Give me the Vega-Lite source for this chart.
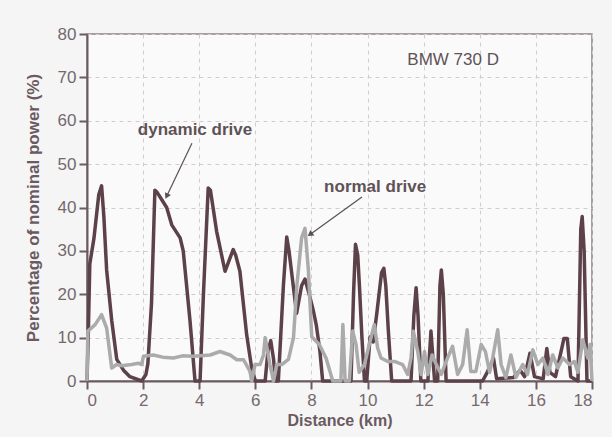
{
  "$schema": "https://vega.github.io/schema/vega-lite/v6.json",
  "autosize": "none",
  "width": 505,
  "height": 347,
  "padding": {"left": 87, "top": 34, "right": 20, "bottom": 56},
  "background": "#f6f5f5",
  "config": {
    "font": "Liberation Sans",
    "view": {"stroke": "#8a8085", "strokeWidth": 1.5, "fill": "#fafafa"},
    "axis": {
      "domainColor": "#6a5a62",
      "domainWidth": 2,
      "tickColor": "#6a5a62",
      "tickWidth": 2,
      "tickSize": 8,
      "labelFontSize": 17,
      "labelColor": "#74696e",
      "labelPadding": 3,
      "gridColor": "#d0cdce",
      "gridDash": [4, 4],
      "gridWidth": 1,
      "titleFontSize": 16,
      "titleFontWeight": "bold",
      "titleColor": "#6a5a62"
    }
  },
  "datasets": {
    "series": [
      {"s": "dynamic", "x": 0, "y": 0}, {"s": "dynamic", "x": 0.05, "y": 12}, {"s": "dynamic", "x": 0.1, "y": 27},
      {"s": "dynamic", "x": 0.25, "y": 33}, {"s": "dynamic", "x": 0.42, "y": 43}, {"s": "dynamic", "x": 0.52, "y": 45},
      {"s": "dynamic", "x": 0.6, "y": 38}, {"s": "dynamic", "x": 0.7, "y": 25.6}, {"s": "dynamic", "x": 0.88, "y": 14},
      {"s": "dynamic", "x": 1.06, "y": 5}, {"s": "dynamic", "x": 1.3, "y": 2.5}, {"s": "dynamic", "x": 1.53, "y": 1},
      {"s": "dynamic", "x": 1.95, "y": 0}, {"s": "dynamic", "x": 2.1, "y": 1.5}, {"s": "dynamic", "x": 2.17, "y": 4},
      {"s": "dynamic", "x": 2.3, "y": 18}, {"s": "dynamic", "x": 2.42, "y": 44}, {"s": "dynamic", "x": 2.5, "y": 43.5},
      {"s": "dynamic", "x": 2.84, "y": 40}, {"s": "dynamic", "x": 3.02, "y": 36}, {"s": "dynamic", "x": 3.32, "y": 33},
      {"s": "dynamic", "x": 3.43, "y": 30}, {"s": "dynamic", "x": 3.67, "y": 14}, {"s": "dynamic", "x": 3.85, "y": 0},
      {"s": "dynamic", "x": 4.03, "y": 0}, {"s": "dynamic", "x": 4.15, "y": 20}, {"s": "dynamic", "x": 4.32, "y": 44.5},
      {"s": "dynamic", "x": 4.4, "y": 44}, {"s": "dynamic", "x": 4.62, "y": 34.5}, {"s": "dynamic", "x": 4.92, "y": 25.3},
      {"s": "dynamic", "x": 5.21, "y": 30.3}, {"s": "dynamic", "x": 5.3, "y": 29}, {"s": "dynamic", "x": 5.45, "y": 25.3},
      {"s": "dynamic", "x": 5.69, "y": 10.7}, {"s": "dynamic", "x": 5.87, "y": 3}, {"s": "dynamic", "x": 6.0, "y": 0},
      {"s": "dynamic", "x": 6.35, "y": 0}, {"s": "dynamic", "x": 6.45, "y": 7}, {"s": "dynamic", "x": 6.55, "y": 9.3},
      {"s": "dynamic", "x": 6.65, "y": 5}, {"s": "dynamic", "x": 6.72, "y": 0}, {"s": "dynamic", "x": 6.82, "y": 0},
      {"s": "dynamic", "x": 7.0, "y": 22}, {"s": "dynamic", "x": 7.12, "y": 33.2}, {"s": "dynamic", "x": 7.2, "y": 30},
      {"s": "dynamic", "x": 7.47, "y": 15.6}, {"s": "dynamic", "x": 7.65, "y": 22}, {"s": "dynamic", "x": 7.77, "y": 23.5},
      {"s": "dynamic", "x": 7.92, "y": 20}, {"s": "dynamic", "x": 8.06, "y": 16.4}, {"s": "dynamic", "x": 8.17, "y": 13},
      {"s": "dynamic", "x": 8.3, "y": 7}, {"s": "dynamic", "x": 8.4, "y": 0}, {"s": "dynamic", "x": 9.41, "y": 0},
      {"s": "dynamic", "x": 9.5, "y": 20}, {"s": "dynamic", "x": 9.57, "y": 31.5}, {"s": "dynamic", "x": 9.65, "y": 29},
      {"s": "dynamic", "x": 9.71, "y": 22}, {"s": "dynamic", "x": 9.8, "y": 10}, {"s": "dynamic", "x": 9.89, "y": 0},
      {"s": "dynamic", "x": 9.97, "y": 0}, {"s": "dynamic", "x": 10.09, "y": 10.2}, {"s": "dynamic", "x": 10.2, "y": 9},
      {"s": "dynamic", "x": 10.33, "y": 15.6}, {"s": "dynamic", "x": 10.5, "y": 25}, {"s": "dynamic", "x": 10.58, "y": 26},
      {"s": "dynamic", "x": 10.65, "y": 22}, {"s": "dynamic", "x": 10.74, "y": 11.7}, {"s": "dynamic", "x": 10.86, "y": 0},
      {"s": "dynamic", "x": 11.55, "y": 0}, {"s": "dynamic", "x": 11.65, "y": 15}, {"s": "dynamic", "x": 11.73, "y": 21.5},
      {"s": "dynamic", "x": 11.8, "y": 15}, {"s": "dynamic", "x": 11.9, "y": 0}, {"s": "dynamic", "x": 12.15, "y": 0},
      {"s": "dynamic", "x": 12.26, "y": 11.5}, {"s": "dynamic", "x": 12.39, "y": 0}, {"s": "dynamic", "x": 12.5, "y": 0},
      {"s": "dynamic", "x": 12.58, "y": 22}, {"s": "dynamic", "x": 12.63, "y": 25.6}, {"s": "dynamic", "x": 12.7, "y": 20},
      {"s": "dynamic", "x": 12.8, "y": 0}, {"s": "dynamic", "x": 14.1, "y": 0}, {"s": "dynamic", "x": 14.25, "y": 1.8},
      {"s": "dynamic", "x": 14.49, "y": 5.2}, {"s": "dynamic", "x": 14.6, "y": 0.5}, {"s": "dynamic", "x": 15.2, "y": 0.8},
      {"s": "dynamic", "x": 15.44, "y": 2.5}, {"s": "dynamic", "x": 15.6, "y": 1}, {"s": "dynamic", "x": 15.79, "y": 6.4},
      {"s": "dynamic", "x": 15.95, "y": 1}, {"s": "dynamic", "x": 16.26, "y": 0.5}, {"s": "dynamic", "x": 16.39, "y": 7.5},
      {"s": "dynamic", "x": 16.5, "y": 2}, {"s": "dynamic", "x": 16.7, "y": 1}, {"s": "dynamic", "x": 17.0, "y": 9.8},
      {"s": "dynamic", "x": 17.12, "y": 9.8}, {"s": "dynamic", "x": 17.24, "y": 1}, {"s": "dynamic", "x": 17.5, "y": 0},
      {"s": "dynamic", "x": 17.6, "y": 35}, {"s": "dynamic", "x": 17.65, "y": 37.9}, {"s": "dynamic", "x": 17.72, "y": 30},
      {"s": "dynamic", "x": 17.82, "y": 0}, {"s": "dynamic", "x": 18.0, "y": 0},
      {"s": "normal", "x": 0, "y": 0}, {"s": "normal", "x": 0.03, "y": 11.5}, {"s": "normal", "x": 0.29, "y": 13},
      {"s": "normal", "x": 0.52, "y": 15.3}, {"s": "normal", "x": 0.7, "y": 12.2}, {"s": "normal", "x": 0.88, "y": 3},
      {"s": "normal", "x": 1.06, "y": 3.8}, {"s": "normal", "x": 1.24, "y": 3.5}, {"s": "normal", "x": 1.59, "y": 3.8},
      {"s": "normal", "x": 1.83, "y": 4.1}, {"s": "normal", "x": 1.95, "y": 3.8}, {"s": "normal", "x": 2.01, "y": 5.7},
      {"s": "normal", "x": 2.36, "y": 6}, {"s": "normal", "x": 2.7, "y": 5.5}, {"s": "normal", "x": 3.08, "y": 5.3},
      {"s": "normal", "x": 3.4, "y": 5.8}, {"s": "normal", "x": 3.79, "y": 5.7}, {"s": "normal", "x": 4.39, "y": 6},
      {"s": "normal", "x": 4.74, "y": 6.8}, {"s": "normal", "x": 5.1, "y": 6}, {"s": "normal", "x": 5.34, "y": 4.9},
      {"s": "normal", "x": 5.58, "y": 4.9}, {"s": "normal", "x": 5.81, "y": 2.2}, {"s": "normal", "x": 5.87, "y": 0},
      {"s": "normal", "x": 5.99, "y": 3.8}, {"s": "normal", "x": 6.17, "y": 3.8}, {"s": "normal", "x": 6.29, "y": 6},
      {"s": "normal", "x": 6.35, "y": 10}, {"s": "normal", "x": 6.52, "y": 3.8}, {"s": "normal", "x": 6.65, "y": 0},
      {"s": "normal", "x": 6.76, "y": 3.8}, {"s": "normal", "x": 6.94, "y": 3.8}, {"s": "normal", "x": 7.18, "y": 5},
      {"s": "normal", "x": 7.36, "y": 10}, {"s": "normal", "x": 7.48, "y": 22}, {"s": "normal", "x": 7.65, "y": 33},
      {"s": "normal", "x": 7.77, "y": 35.2}, {"s": "normal", "x": 7.89, "y": 25.6}, {"s": "normal", "x": 8.01, "y": 10.2},
      {"s": "normal", "x": 8.28, "y": 8.4}, {"s": "normal", "x": 8.52, "y": 5.3}, {"s": "normal", "x": 8.76, "y": 0},
      {"s": "normal", "x": 9.05, "y": 0}, {"s": "normal", "x": 9.12, "y": 13}, {"s": "normal", "x": 9.2, "y": 0},
      {"s": "normal", "x": 9.35, "y": 0}, {"s": "normal", "x": 9.47, "y": 11.5}, {"s": "normal", "x": 9.59, "y": 8.4},
      {"s": "normal", "x": 9.7, "y": 2}, {"s": "normal", "x": 9.89, "y": 3.8}, {"s": "normal", "x": 10.06, "y": 8.4},
      {"s": "normal", "x": 10.24, "y": 13}, {"s": "normal", "x": 10.36, "y": 7.6}, {"s": "normal", "x": 10.48, "y": 5.3},
      {"s": "normal", "x": 10.72, "y": 4.5}, {"s": "normal", "x": 10.96, "y": 4.5}, {"s": "normal", "x": 11.25, "y": 3.8},
      {"s": "normal", "x": 11.43, "y": 1.5}, {"s": "normal", "x": 11.55, "y": 5.3}, {"s": "normal", "x": 11.63, "y": 11.5},
      {"s": "normal", "x": 11.79, "y": 6.8}, {"s": "normal", "x": 11.91, "y": 1.5}, {"s": "normal", "x": 12.03, "y": 6.8},
      {"s": "normal", "x": 12.15, "y": 1.5}, {"s": "normal", "x": 12.3, "y": 6}, {"s": "normal", "x": 12.45, "y": 3.8},
      {"s": "normal", "x": 12.63, "y": 1.5}, {"s": "normal", "x": 12.8, "y": 4.5}, {"s": "normal", "x": 13.03, "y": 8},
      {"s": "normal", "x": 13.21, "y": 1.5}, {"s": "normal", "x": 13.39, "y": 3.8}, {"s": "normal", "x": 13.55, "y": 11.8},
      {"s": "normal", "x": 13.68, "y": 2.2}, {"s": "normal", "x": 13.86, "y": 2.2}, {"s": "normal", "x": 14.05, "y": 8.4},
      {"s": "normal", "x": 14.2, "y": 6.8}, {"s": "normal", "x": 14.35, "y": 2}, {"s": "normal", "x": 14.46, "y": 5.3},
      {"s": "normal", "x": 14.64, "y": 11.8}, {"s": "normal", "x": 14.76, "y": 3.8}, {"s": "normal", "x": 14.93, "y": 0.8},
      {"s": "normal", "x": 15.11, "y": 6}, {"s": "normal", "x": 15.29, "y": 0.8}, {"s": "normal", "x": 15.53, "y": 3.8},
      {"s": "normal", "x": 15.7, "y": 1.5}, {"s": "normal", "x": 15.89, "y": 7.2}, {"s": "normal", "x": 16.07, "y": 3.8},
      {"s": "normal", "x": 16.25, "y": 5.3}, {"s": "normal", "x": 16.43, "y": 1.5}, {"s": "normal", "x": 16.6, "y": 6},
      {"s": "normal", "x": 16.78, "y": 3}, {"s": "normal", "x": 16.96, "y": 5.3}, {"s": "normal", "x": 17.2, "y": 3.8},
      {"s": "normal", "x": 17.37, "y": 4.5}, {"s": "normal", "x": 17.5, "y": 2}, {"s": "normal", "x": 17.67, "y": 9.5},
      {"s": "normal", "x": 17.85, "y": 5.3}, {"s": "normal", "x": 17.93, "y": 8.4}, {"s": "normal", "x": 18, "y": 0}
    ],
    "boldLabels": [
      {"x": 3.85, "y": 57.8, "text": "dynamic drive"},
      {"x": 10.27, "y": 44.7, "text": "normal drive"}
    ],
    "plainLabels": [
      {"x": 13.05, "y": 74, "text": "BMW 730 D"}
    ],
    "arrows": [
      {"x": 3.74, "y": 54.8, "x2": 2.84, "y2": 42.6, "angle": 206},
      {"x": 9.8, "y": 42.4, "x2": 7.95, "y2": 33.8, "angle": 234}
    ]
  },
  "layer": [
    {
      "data": {"name": "series"},
      "mark": {"type": "line", "strokeWidth": 3.5, "strokeJoin": "round"},
      "encoding": {
        "x": {
          "field": "x", "type": "quantitative",
          "scale": {"domain": [0, 18], "nice": false},
          "axis": {"values": [0, 2, 4, 6, 8, 10, 12, 14, 16, 18], "title": "Distance (km)", "titlePadding": 4}
        },
        "y": {
          "field": "y", "type": "quantitative",
          "scale": {"domain": [0, 80], "nice": false},
          "axis": {"values": [0, 10, 20, 30, 40, 50, 60, 70, 80], "title": "Percentage of nominal power   (%)", "titlePadding": 15, "titleFontSize": 17}
        },
        "color": {
          "field": "s", "type": "nominal",
          "scale": {"domain": ["dynamic", "normal"], "range": ["#5c4149", "#ababab"]},
          "legend": null
        },
        "order": {"field": "x", "type": "quantitative"}
      }
    },
    {
      "data": {"name": "arrows"},
      "mark": {"type": "rule", "color": "#5a5055", "strokeWidth": 1.2},
      "encoding": {
        "x": {"field": "x", "type": "quantitative"},
        "y": {"field": "y", "type": "quantitative"},
        "x2": {"field": "x2"},
        "y2": {"field": "y2"}
      }
    },
    {
      "data": {"name": "arrows"},
      "mark": {"type": "point", "shape": "triangle-up", "filled": true, "color": "#5a5055", "size": 45, "opacity": 1},
      "encoding": {
        "x": {"field": "x2", "type": "quantitative"},
        "y": {"field": "y2", "type": "quantitative"},
        "angle": {"field": "angle", "type": "quantitative", "scale": null}
      }
    },
    {
      "data": {"name": "boldLabels"},
      "mark": {"type": "text", "fontSize": 17, "fontWeight": "bold", "color": "#5f5257", "align": "center", "baseline": "middle"},
      "encoding": {
        "x": {"field": "x", "type": "quantitative"},
        "y": {"field": "y", "type": "quantitative"},
        "text": {"field": "text"}
      }
    },
    {
      "data": {"name": "plainLabels"},
      "mark": {"type": "text", "fontSize": 17, "color": "#5f5257", "align": "center", "baseline": "middle"},
      "encoding": {
        "x": {"field": "x", "type": "quantitative"},
        "y": {"field": "y", "type": "quantitative"},
        "text": {"field": "text"}
      }
    }
  ]
}
